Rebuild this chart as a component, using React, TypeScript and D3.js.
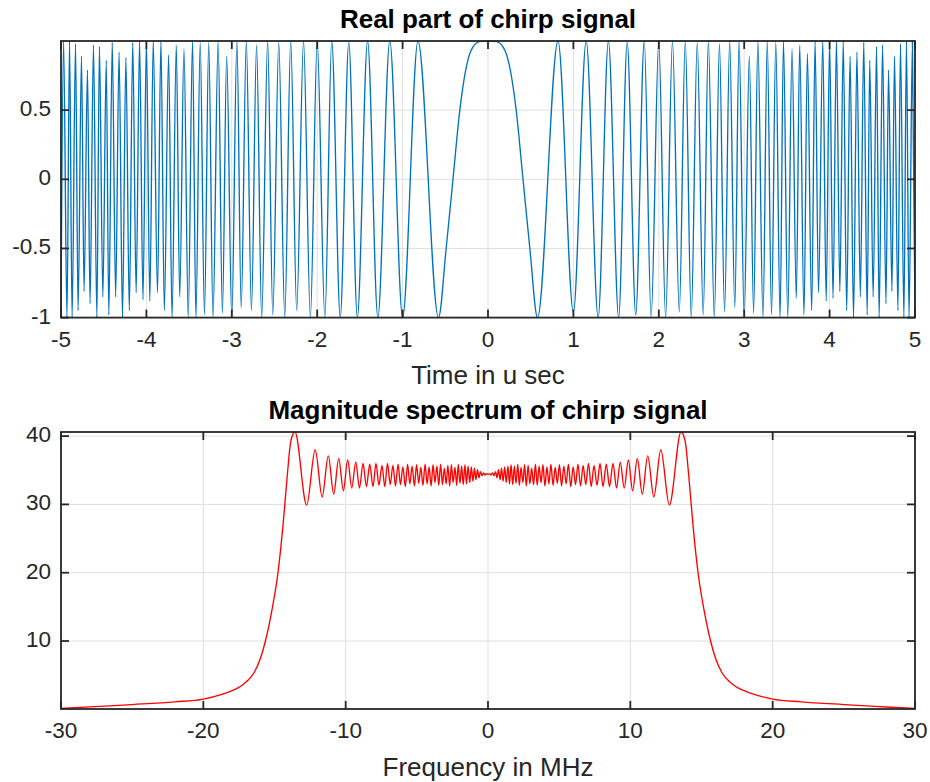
import * as d3 from 'd3';

// ---- top panel: real part of chirp (extrema) ----
const chirpT = [0, 0.1, 0.2, 0.33, 0.41, 0.49,
  0.58, 0.82, 1.0, 1.15, 1.29, 1.41, 1.53, 1.63, 1.73, 1.83,
  1.91, 2.0, 2.08, 2.16, 2.24, 2.31, 2.38, 2.45, 2.52, 2.58,
  2.65, 2.71, 2.77, 2.83, 2.89, 2.94, 3.0, 3.06, 3.11, 3.16,
  3.22, 3.27, 3.32, 3.37, 3.42, 3.46, 3.51, 3.56, 3.61, 3.65,
  3.70, 3.74, 3.79, 3.83, 3.87, 3.92, 3.96, 4.0, 4.04, 4.08,
  4.12, 4.16, 4.20, 4.24, 4.28, 4.32, 4.36, 4.40, 4.44, 4.47,
  4.51, 4.55, 4.58, 4.62, 4.66, 4.69, 4.73, 4.76, 4.80, 4.83,
  4.87, 4.90, 4.93, 4.97, 5.0];
const chirpRight = [0.9999, 0.995, 0.93, 0.5, 0, -0.5,
  -1, 1, -0.96, 1, -1, 1, -1, 0.99, -0.98, 1,
  -1, 1, -1, 1, -0.96, 1, -1, 0.99, -0.98, 1,
  -1, 0.98, -0.96, 1, -0.93, 1, -1, 0.89, -0.97, 1,
  -1, 1, -0.98, 0.99, -1, 1, -1, 0.94, -0.86, 0.97,
  -0.98, 0.91, -0.95, 1, -0.82, 1, -0.88, 1, -0.86, 1,
  -0.81, 1, -0.95, 0.89, -1, 0.92, -0.85, 0.99, -0.98, 0.86,
  -0.85, 0.96, -1, 0.97, -0.9, 0.79, -0.81, 0.89, -0.95, 0.98,
  -1, 1, -1, 1, -1];
const chirpLeft = [0.9999, 0.995, 0.93, 0.5, 0, -0.5,
  -1, 1, -1, 1, -1, 1, -1, 0.99, -1, 1,
  -1, 1, -1, 1, -0.95, 1, -1, 0.99, -0.98, 1,
  -1, 0.97, -0.95, 1, -0.93, 1, -1, 0.89, -0.97, 1,
  -1, 0.99, -0.98, 0.99, -1, 1, -1, 0.94, -0.85, 0.97,
  -1, 0.9, -0.95, 1, -0.82, 1, -0.88, 1, -0.87, 1,
  -0.82, 0.99, -0.95, 0.88, -1, 0.92, -0.85, 0.99, -0.98, 0.86,
  -0.85, 0.96, -1, 0.97, -0.9, 0.79, -0.81, 0.89, -0.95, 0.98,
  -1, 1, -1, 1, -1];
const timeTicks = [-5, -4, -3, -2, -1, 0, 1, 2, 3, 4, 5];
const ampTicks = [-1, -0.5, 0, 0.5];

// ---- bottom panel: magnitude spectrum (positive half, mirrored) ----
const specF = [0, 0.11, 0.21, 0.32, 0.42, 0.53, 0.63, 0.74, 0.85, 0.95,
  1.06, 1.17, 1.28, 1.40, 1.51, 1.62, 1.74, 1.85, 1.97, 2.09,
  2.20, 2.32, 2.45, 2.57, 2.69, 2.82, 2.94, 3.07, 3.20, 3.33,
  3.46, 3.59, 3.73, 3.86, 4.00, 4.14, 4.28, 4.42, 4.57, 4.72,
  4.87, 5.02, 5.17, 5.33, 5.49, 5.65, 5.81, 5.98, 6.15, 6.32,
  6.50, 6.68, 6.87, 7.06, 7.25, 7.45, 7.66, 7.87, 8.08, 8.31,
  8.54, 8.78, 9.03, 9.29, 9.57, 9.86, 10.16, 10.49, 10.84, 11.22,
  11.65, 12.14, 12.74, 13.56, 13.85, 14.1, 14.4, 14.75, 15.2, 15.65,
  16.0, 16.4, 16.7, 17.0, 17.4, 17.9, 18.7, 20.0, 22.0, 25.0, 28.0, 30.0];
const specMag = [34.4, 34.5, 34.3, 34.6, 34.2, 34.8, 33.9, 35.1, 33.6, 35.3,
  33.4, 35.5, 33.2, 35.6, 33.0, 35.8, 32.9, 35.6, 33.1, 35.9,
  32.8, 35.4, 33.2, 35.8, 32.7, 35.7, 33.0, 35.3, 32.9, 35.9,
  32.8, 35.6, 33.2, 35.8, 32.7, 35.5, 33.0, 35.9, 32.8, 35.4,
  33.1, 35.8, 32.7, 35.6, 33.0, 35.9, 32.6, 35.5, 32.9, 35.9,
  32.7, 35.7, 32.9, 36.0, 32.6, 35.7, 32.8, 36.0, 32.6, 35.9,
  32.6, 36.0, 32.4, 36.2, 32.4, 36.5, 32.0, 36.7, 31.5, 37.1,
  31.1, 38.0, 29.9, 40.6, 39.3, 34.3, 27.0, 20.1, 14.3, 9.9,
  7.4, 5.5, 4.6, 4.0, 3.35, 2.8, 2.2, 1.5, 1.1, 0.7, 0.35, 0.12];
const freqTicks = [-30, -20, -10, 0, 10, 20, 30];
const magTicks = [10, 20, 30, 40];

const font = "'Liberation Sans', Arial, Helvetica, sans-serif";
const axisColor = '#262626';
const gridColor = '#dfdfdf';

const Panel = ({ box, xScale, yScale, xTicks, yTicks, pathD, color, title, xLabel, id }) => {
  const tick = 8;
  return (
    <g>
      <rect x={box.left} y={box.top} width={box.right - box.left} height={box.bottom - box.top} fill="#fff" />
      {xTicks.map(t => (
        <line key={'gx' + t} x1={xScale(t)} x2={xScale(t)} y1={box.top} y2={box.bottom} stroke={gridColor} strokeWidth={1} />
      ))}
      {yTicks.map(t => (
        <line key={'gy' + t} x1={box.left} x2={box.right} y1={yScale(t)} y2={yScale(t)} stroke={gridColor} strokeWidth={1} />
      ))}
      <clipPath id={id}>
        <rect x={box.left} y={box.top - 1} width={box.right - box.left} height={box.bottom - box.top + 2} />
      </clipPath>
      <path d={pathD} fill="none" stroke={color} strokeWidth={1.35} clipPath={`url(#${id})`} />
      <rect x={box.left} y={box.top} width={box.right - box.left} height={box.bottom - box.top} fill="none" stroke={axisColor} strokeWidth={1.8} />
      {xTicks.map(t => (
        <g key={'tx' + t}>
          <line x1={xScale(t)} x2={xScale(t)} y1={box.bottom} y2={box.bottom - tick} stroke={axisColor} strokeWidth={1.8} />
          <line x1={xScale(t)} x2={xScale(t)} y1={box.top} y2={box.top + tick} stroke={axisColor} strokeWidth={1.8} />
          <text x={xScale(t)} y={box.bottom + 23} textAnchor="middle" dominantBaseline="middle" fontFamily={font} fontSize={22.5} fill={axisColor}>{t}</text>
        </g>
      ))}
      {yTicks.map(t => (
        <g key={'ty' + t}>
          <line x1={box.left} x2={box.left + tick} y1={yScale(t)} y2={yScale(t)} stroke={axisColor} strokeWidth={1.8} />
          <line x1={box.right} x2={box.right - tick} y1={yScale(t)} y2={yScale(t)} stroke={axisColor} strokeWidth={1.8} />
          <text x={box.left - 10} y={yScale(t)} textAnchor="end" dominantBaseline="middle" fontFamily={font} fontSize={22.5} fill={axisColor}>{t}</text>
        </g>
      ))}
      <text x={(box.left + box.right) / 2} y={box.top - 20} textAnchor="middle" dominantBaseline="middle" fontFamily={font} fontWeight="bold" fontSize={26} fill="#000">{title}</text>
      <text x={(box.left + box.right) / 2} y={box.bottom + 60} textAnchor="middle" dominantBaseline="middle" fontFamily={font} fontSize={26} fill={axisColor}>{xLabel}</text>
    </g>
  );
};

export default function App() {
  const topBox = { left: 61, right: 915, top: 41, bottom: 317.6 };
  const botBox = { left: 61, right: 915, top: 432, bottom: 709 };

  const xTime = d3.scaleLinear().domain([-5, 5]).range([topBox.left, topBox.right]);
  const yAmp = d3.scaleLinear().domain([-1, 0.9999]).range([topBox.bottom, topBox.top]);
  const xFreq = d3.scaleLinear().domain([-30, 30]).range([botBox.left, botBox.right]);
  const yMag = d3.scaleLinear().domain([0.05, 40.6]).range([botBox.bottom, botBox.top]);

  const chirpPts: [number, number][] = [];
  for (let i = chirpT.length - 1; i >= 1; i--) chirpPts.push([-chirpT[i], chirpLeft[i]]);
  for (let i = 0; i < chirpT.length; i++) chirpPts.push([chirpT[i], chirpRight[i]]);

  const specPts: [number, number][] = [];
  for (let i = specF.length - 1; i >= 1; i--) specPts.push([-specF[i], specMag[i]]);
  for (let i = 0; i < specF.length; i++) specPts.push([specF[i], specMag[i]]);

  const chirpLine = d3.line<[number, number]>()
    .x(d => xTime(d[0]))
    .y(d => yAmp(d[1]))
    .curve(d3.curveMonotoneX);
  const specLine = d3.line<[number, number]>()
    .x(d => xFreq(d[0]))
    .y(d => yMag(d[1]))
    .curve(d3.curveMonotoneX);

  return (
    <div style={{ position: 'absolute', left: 0, top: 0 }}>
      <svg width={930} height={782} viewBox="0 0 930 782" style={{ display: 'block', background: '#fff' }}>
        <Panel id="clipTop" box={topBox} xScale={xTime} yScale={yAmp} xTicks={timeTicks} yTicks={ampTicks}
          pathD={chirpLine(chirpPts)} color="#0072BD" title="Real part of chirp signal" xLabel="Time in u sec" />
        <Panel id="clipBot" box={botBox} xScale={xFreq} yScale={yMag} xTicks={freqTicks} yTicks={magTicks}
          pathD={specLine(specPts)} color="#FF0000" title="Magnitude spectrum of chirp signal" xLabel="Frequency in MHz" />
      </svg>
    </div>
  );
}
